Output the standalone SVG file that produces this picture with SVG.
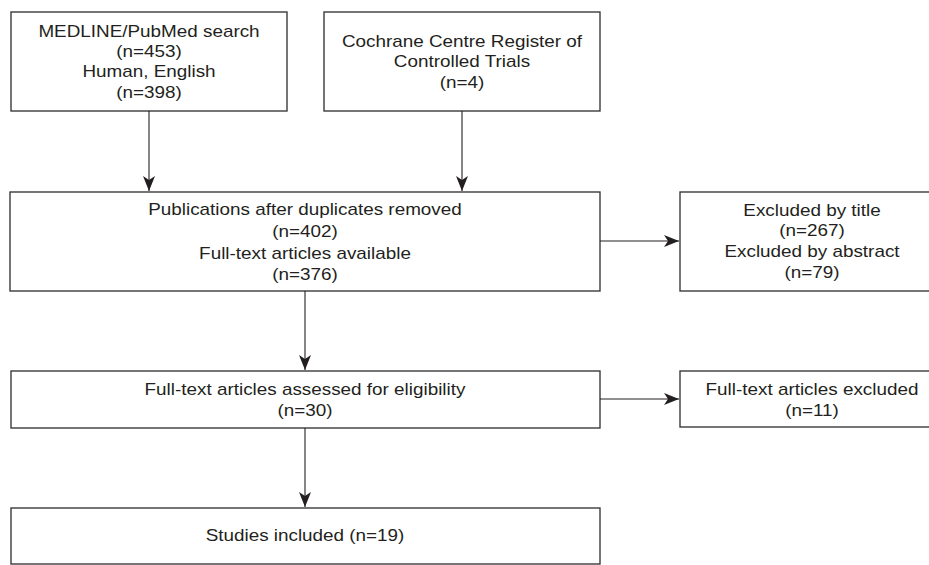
<svg xmlns="http://www.w3.org/2000/svg" width="929" height="565" viewBox="0 0 929 565">
<style>
.box{fill:#fff;stroke:#3d3939;stroke-width:1.4}
.t{font-family:"Liberation Sans",Arial,sans-serif;font-size:16px;fill:#231f20;text-anchor:middle}
.c{fill:none;stroke:#231f20;stroke-width:1.1}
</style>
<defs>
<marker id="ah" markerUnits="userSpaceOnUse" markerWidth="20" markerHeight="16" viewBox="-16 -8 18 16" refX="0" refY="0" orient="auto">
<path d="M-15,-6 L0,0 L-15,6 L-11,0 Z" fill="#231f20"/>
</marker>
</defs>
<rect width="929" height="565" fill="#fff"/>
<g id="n1">
<rect class="box" x="11" y="12" width="276" height="99"/>
<text class="t" transform="translate(149 0) scale(1.18 1)"><tspan x="0" y="37">MEDLINE/PubMed search</tspan><tspan x="0" y="57.5">(n=453)</tspan><tspan x="0" y="77.5">Human, English</tspan><tspan x="0" y="98">(n=398)</tspan></text>
</g>
<g id="n2">
<rect class="box" x="324" y="12" width="276" height="99"/>
<text class="t" transform="translate(462 0) scale(1.18 1)"><tspan x="0" y="47">Cochrane Centre Register of</tspan><tspan x="0" y="67.5">Controlled Trials</tspan><tspan x="0" y="88">(n=4)</tspan></text>
</g>
<g id="n3">
<rect class="box" x="10" y="192" width="590" height="99"/>
<text class="t" transform="translate(305 0) scale(1.18 1)"><tspan x="0" y="215">Publications after duplicates removed</tspan><tspan x="0" y="237">(n=402)</tspan><tspan x="0" y="259">Full-text articles available</tspan><tspan x="0" y="280.5">(n=376)</tspan></text>
</g>
<g id="n4">
<rect class="box" x="680" y="192" width="264" height="99"/>
<text class="t" transform="translate(812 0) scale(1.18 1)"><tspan x="0" y="216">Excluded by title</tspan><tspan x="0" y="236.5">(n=267)</tspan><tspan x="0" y="257.5">Excluded by abstract</tspan><tspan x="0" y="278">(n=79)</tspan></text>
</g>
<g id="n5">
<rect class="box" x="11" y="371" width="589" height="57"/>
<text class="t" transform="translate(305 0) scale(1.18 1)"><tspan x="0" y="395.5">Full-text articles assessed for eligibility</tspan><tspan x="0" y="416.5">(n=30)</tspan></text>
</g>
<g id="n6">
<rect class="box" x="680" y="371" width="264" height="56"/>
<text class="t" transform="translate(812 0) scale(1.18 1)"><tspan x="0" y="395.5">Full-text articles excluded</tspan><tspan x="0" y="416.5">(n=11)</tspan></text>
</g>
<g id="n7">
<rect class="box" x="11" y="508" width="589" height="56"/>
<text class="t" transform="translate(305 0) scale(1.18 1)"><tspan x="0" y="541.5">Studies included (n=19)</tspan></text>
</g>
<g id="connectors">
<line class="c" x1="149" y1="111" x2="149" y2="191" marker-end="url(#ah)"/>
<line class="c" x1="462" y1="111" x2="462" y2="191" marker-end="url(#ah)"/>
<line class="c" x1="600" y1="241" x2="679" y2="241" marker-end="url(#ah)"/>
<line class="c" x1="305" y1="291" x2="305" y2="370" marker-end="url(#ah)"/>
<line class="c" x1="600" y1="399" x2="679" y2="399" marker-end="url(#ah)"/>
<line class="c" x1="305" y1="428" x2="305" y2="507" marker-end="url(#ah)"/>
</g>
</svg>
